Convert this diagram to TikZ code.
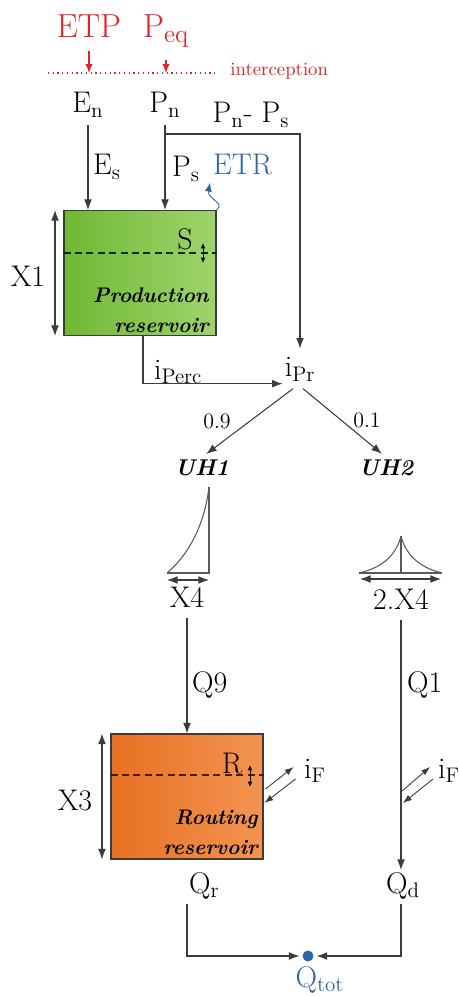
\documentclass[tikz,border=0pt]{standalone}
\usetikzlibrary{arrows.meta,positioning}

\definecolor{etpred}{RGB}{222,36,40}
\definecolor{etrblue}{RGB}{46,100,170}
\definecolor{prodgreenA}{RGB}{112,184,52}
\definecolor{prodgreenB}{RGB}{158,212,108}
\definecolor{routorangeA}{RGB}{232,112,34}
\definecolor{routorangeB}{RGB}{243,148,82}
\definecolor{wire}{RGB}{60,60,60}

\tikzset{
  lab/.style={font=\fontsize{17}{20}\selectfont, inner sep=1pt},
  smalllab/.style={font=\fontsize{12.5}{15}\selectfont, inner sep=1pt},
  uhlab/.style={font=\fontsize{13}{15}\selectfont\bfseries\itshape, inner sep=1pt},
  restxt/.style={font=\fontsize{12}{17}\selectfont\bfseries\itshape, align=right, inner sep=0pt},
  reservoir/.style={draw=wire, line width=0.6pt, minimum width=3.04cm, minimum height=2.5cm, inner sep=0pt},
  flow/.style={->, draw=wire, line width=0.6pt},
  waterline/.style={dashed, line width=0.6pt, dash pattern=on 4pt off 2.5pt},
  sizearr/.style={<->, draw=wire, line width=0.6pt},
  tinyarr/.style={<->, line width=0.5pt, >={Latex[length=3pt,width=2.6pt]}},
  hydro/.style={draw=wire!85, line width=0.6pt},
  fluxarr/.style={->, draw=wire, line width=0.5pt, >={Latex[length=5pt,width=3.6pt]}},
}

\begin{document}
\begin{tikzpicture}[x=0.02cm, y=-0.02cm, >={Latex[length=6pt,width=4.4pt]}]
\useasboundingbox (0,0) rectangle (458,996);

% inputs and interception
\node[lab, etpred, font=\fontsize{19}{22}\selectfont, anchor=base] (etp) at (89,38) {ETP};
\node[lab, etpred, font=\fontsize{19}{22}\selectfont, anchor=base] (peq) at (166,38) {P$_{\mathrm{eq}}$};
\coordinate (intl) at (48,73);
\coordinate (intr) at (218,73);
\draw[etpred, dotted, line width=0.7pt] (intl) -- (intr);
\node[etpred, font=\fontsize{10.7}{13}\selectfont, anchor=base west, inner sep=0pt] (intc) at (230,76) {interception};
\draw[->, etpred, line width=0.6pt, >={Latex[length=5pt,width=4pt]}, shorten <=6pt] (etp) -- (etp |- intl);
\draw[->, etpred, line width=0.6pt, >={Latex[length=5pt,width=4pt]}, shorten <=6pt] (peq) -- (peq |- intl);

\node[lab, anchor=base] (en) at (88,113) {E$_{\mathrm{n}}$};
\node[lab, anchor=base] (pn) at (165,113) {P$_{\mathrm{n}}$};
\node[lab, anchor=base] (pnps) at (251,123) {P$_{\mathrm{n}}$- P$_{\mathrm{s}}$};

% production store
\node[reservoir, left color=prodgreenA, right color=prodgreenB] (prod) at (140,273) {};
\draw[waterline, draw=black!80!green] (prod.west |- 0,253) -- (prod.east |- 0,253);
\node[lab, anchor=base] (stor) at (185,250) {S};
\draw[tinyarr] (203,243) -- (203,263);
\node[restxt, anchor=east] (prodtxt) at (209,310) {Production\\reservoir};
\draw[sizearr] (prod.north west -| 55,0) -- (prod.south west -| 55,0);
\node[lab, anchor=base] (xone) at (28,287) {X1};

\node[lab, anchor=base west] (es) at (91,175) {E$_{\mathrm{s}}$};
\node[lab, anchor=base west] (ps) at (170,177) {P$_{\mathrm{s}}$};
\node[lab, etrblue, anchor=base west] (etr) at (211,175) {ETR};
\draw[flow, shorten <=3pt] (en) -- (en |- prod.north);
\draw[flow, shorten <=3pt] (pn) -- (pn |- prod.north);
\draw[->, etrblue, line width=0.5pt, >={Latex[length=5pt,width=4pt]}, shorten >=3pt]
  (prod.north east) .. controls (226,203) and (207,199) .. (etr.south west);

% split to i_Pr
\node[lab, anchor=base] (ipr) at (300,377) {i$_{\mathrm{Pr}}$};
\coordinate (split) at (pn |- 0,134);
\draw[flow, shorten >=4pt] (split) -| (ipr);
\node[lab, anchor=base west] (iperc) at (152,379) {i$_{\mathrm{Perc}}$};
\draw[flow] ([xshift=0.06cm]prod.south) |- (ipr.south west);

% unit hydrographs
\node[uhlab, anchor=base] (uhone) at (202,475) {UH1};
\node[uhlab, anchor=base] (uhtwo) at (386,475) {UH2};
\draw[flow, shorten >=3pt] ([xshift=-0.14cm,yshift=-0.1cm]ipr.south) -- (uhone.north);
\draw[flow, shorten >=3pt] ([xshift=0.06cm,yshift=-0.1cm]ipr.south) -- (uhtwo.north);
\node[smalllab, anchor=base] (wone) at (217,428) {0.9};
\node[smalllab, anchor=base] (wtwo) at (367,427) {0.1};

\draw[hydro] (167,573) -- (209,573) -- (209,487);
\draw[hydro] (167,573) .. controls (187,556) and (204,528) .. (209,487);
\draw[hydro] (359,573) -- (442,573);
\draw[hydro] (401,573) -- (401,536);
\draw[hydro] (359,573) .. controls (381,568) and (396,556) .. (401,536);
\draw[hydro] (442,573) .. controls (421,568) and (406,556) .. (401,536);
\draw[sizearr] (167,580) -- (209,580);
\draw[sizearr] (360,579) -- (441,579);
\node[lab, anchor=base] (xfour) at (187,607) {X4};
\node[lab, anchor=base] (xfourtwo) at (401,609) {2.X4};

% routing store
\node[reservoir, left color=routorangeA, right color=routorangeB] (rout) at (187,796.5) {};
\draw[waterline, draw=black!75!orange] (rout.west |- 0,775) -- (rout.east |- 0,775);
\node[lab, anchor=base] (rlev) at (232,773) {R};
\draw[tinyarr] (250,765) -- (250,787);
\node[restxt, anchor=east] (routtxt) at (258,832) {Routing\\reservoir};
\draw[sizearr] (rout.north west -| 102,0) -- (rout.south west -| 102,0);
\node[lab, anchor=base] (xthree) at (75,810) {X3};

\draw[flow, shorten <=5pt] (xfour) -- (xfour |- rout.north);
\node[lab, anchor=base west] (qnine) at (190,692) {Q9};
\node[lab, anchor=base west] (qone) at (405,692) {Q1};

% exchange
\draw[fluxarr] ([shift={(2,-7.5)}]rout.east) -- ++(28,-22);
\draw[fluxarr] ([shift={(32,-17.5)}]rout.east) -- ++(-31,24);
\node[lab, anchor=base west] (ifone) at (302,778) {i$_{\mathrm{F}}$};
\coordinate (qoneex) at (xfourtwo |- rout.east);
\draw[fluxarr] ([shift={(1,-5.5)}]qoneex) -- ++(28,-24);
\draw[fluxarr] ([shift={(32,-17.5)}]qoneex) -- ++(-30,24);
\node[lab, anchor=base west] (iftwo) at (436,778) {i$_{\mathrm{F}}$};

% outflow
\node[lab, anchor=base west] (qr) at (187,893) {Q$_{\mathrm{r}}$};
\node[lab, anchor=base] (qd) at (403,893) {Q$_{\mathrm{d}}$};
\draw[flow, shorten <=5pt] (xfourtwo) -- (xfourtwo |- qd.north);
\node[circle, fill=etrblue, inner sep=0pt, minimum size=0.22cm] (tot) at (308,956) {};
\node[lab, etrblue, anchor=base] (qtot) at (320,987) {Q$_{\mathrm{tot}}$};
\draw[flow, shorten <=2pt, shorten >=1.5pt] (qr.south west) |- (tot);
\draw[flow, shorten <=2pt, shorten >=1.5pt] (qd.south -| xfourtwo) |- (tot);

\end{tikzpicture}
\end{document}
